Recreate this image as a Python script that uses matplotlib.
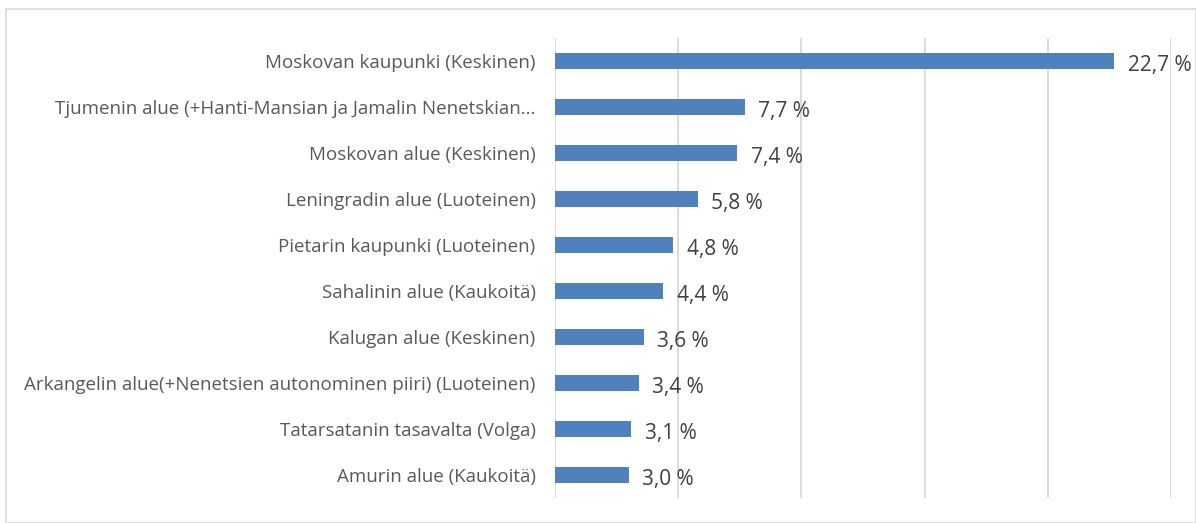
import matplotlib.pyplot as plt
from matplotlib.patches import Rectangle

# alueet ja osuudet (%)
labels = ['Moskovan kaupunki (Keskinen)',
          'Tjumenin alue (+Hanti-Mansian ja Jamalin Nenetskian...',
          'Moskovan alue (Keskinen)',
          'Leningradin alue (Luoteinen)',
          'Pietarin kaupunki (Luoteinen)',
          'Sahalinin alue (Kaukoitä)',
          'Kalugan alue (Keskinen)',
          'Arkangelin alue(+Nenetsien autonominen piiri) (Luoteinen)',
          'Tatarsatanin tasavalta (Volga)',
          'Amurin alue (Kaukoitä)']
values = [22.7, 7.7, 7.4, 5.8, 4.8, 4.4, 3.6, 3.4, 3.1, 3.0]

plt.rcParams['font.family'] = ['Open Sans', 'DejaVu Sans']
txt = '#595959'

fig = plt.figure(figsize=(11.96, 5.23), dpi=100)
ax = fig.add_axes([555/1196, 1-498/523, 616/1196, 460/523])

pos = list(range(len(values)))
ax.barh(pos, values, height=0.36, color='#4F81BD', zorder=3)
ax.set_ylim(len(values) - 0.5, -0.5)
ax.set_xlim(0, 25)
ax.set_xticks([0, 5, 10, 15, 20, 25])
ax.xaxis.grid(True, color='#D9D9D9', linewidth=1.3, zorder=0)
ax.tick_params(axis='x', length=0, labelbottom=False)
ax.set_yticks(pos)
ax.set_yticklabels(labels, fontsize=13.5, color=txt)
ax.tick_params(axis='y', length=0, pad=14)
for s in ax.spines.values():
    s.set_visible(False)

for p, v in zip(pos, values):
    ax.text(v + 0.55, p + 0.04, f'{v:.1f} %'.replace('.', ','), va='center_baseline', ha='left',
            fontsize=15, color='#404040', zorder=4)

# kehys
fig.patches.append(Rectangle((6/1196, 0), 1 - 6/1196, 1 - 9/523, transform=fig.transFigure,
                             fill=False, edgecolor='#D9D9D9', linewidth=1.2))

fig.savefig('out.png', dpi=100)
